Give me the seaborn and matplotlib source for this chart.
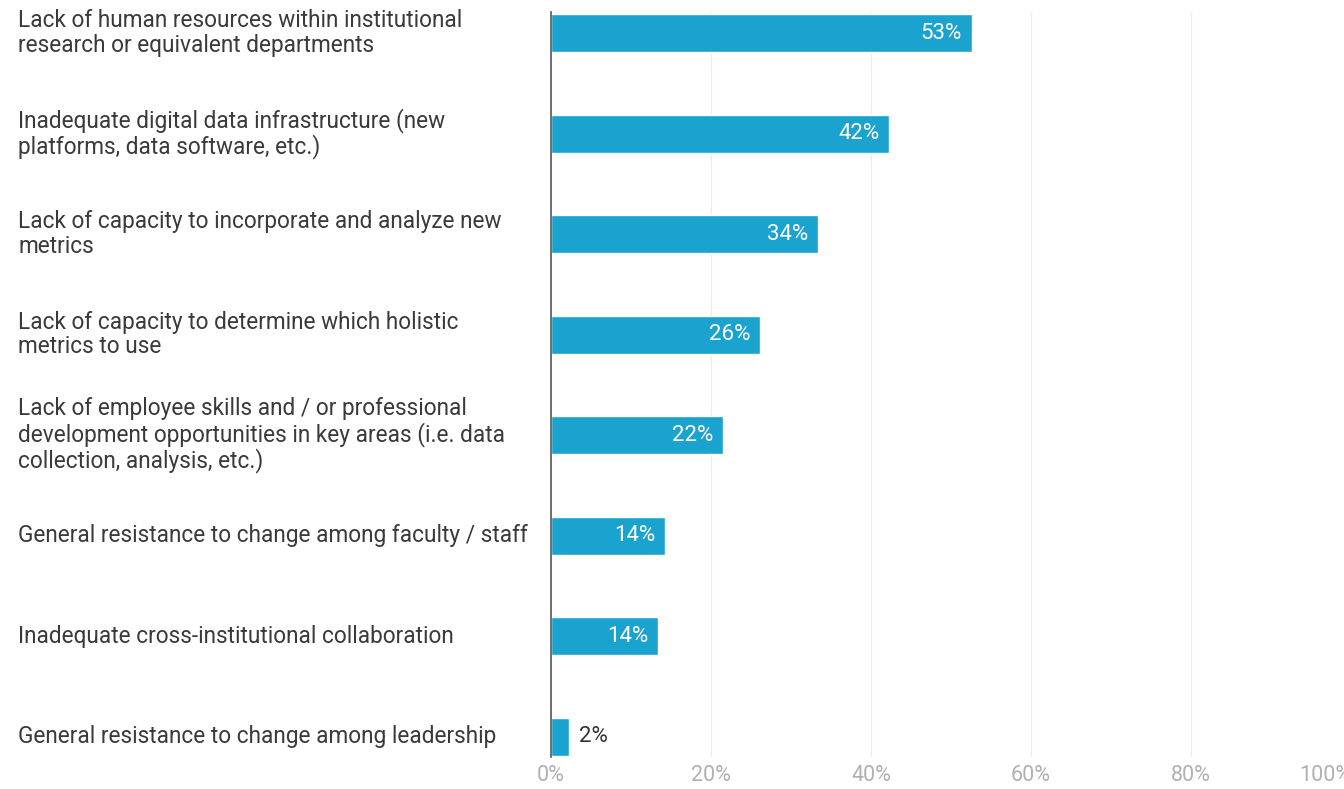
import matplotlib
matplotlib.use("Agg")
import matplotlib.pyplot as plt
import matplotlib.transforms as mtransforms
import seaborn as sns
import pandas as pd

categories = [
    "Lack of human resources within institutional\nresearch or equivalent departments",
    "Inadequate digital data infrastructure (new\nplatforms, data software, etc.)",
    "Lack of capacity to incorporate and analyze new\nmetrics",
    "Lack of capacity to determine which holistic\nmetrics to use",
    "Lack of employee skills and / or professional\ndevelopment opportunities in key areas (i.e. data\ncollection, analysis, etc.)",
    "General resistance to change among faculty / staff",
    "Inadequate cross-institutional collaboration",
    "General resistance to change among leadership",
]
values = [52.6, 42.3, 33.4, 26.1, 21.5, 14.3, 13.4, 2.3]
value_labels = ["53%", "42%", "34%", "26%", "22%", "14%", "14%", "2%"]
x_ticks = [0, 20, 40, 60, 80, 100]
x_tick_labels = ["0%", "20%", "40%", "60%", "80%", "100%"]

sns.set_theme(style="white")
plt.rcParams["font.family"] = ["Roboto", "DejaVu Sans"]

df = pd.DataFrame({"category": categories, "value": values})

fig = plt.figure(figsize=(13.44, 7.89), dpi=100)
ax = fig.add_axes([551 / 1344, 32 / 789, 800 / 1344, 745 / 789])

sns.barplot(data=df, x="value", y="category", color="#1ba3cf", saturation=1,
            width=0.38, ax=ax, orient="h")

ax.set_xlim(0, 100)
ax.set_ylim(7.2, -0.21)
ax.set_xticks(x_ticks)
ax.set_xticklabels(x_tick_labels, color="#b0b0b0", fontsize=15.5)
ax.get_xticklabels()[-1].set_horizontalalignment("right")
ax.tick_params(axis="x", length=0, pad=6)
ax.set_yticks([])
ax.set_xlabel("")
ax.set_ylabel("")
ax.grid(axis="x", color="#ececec", linewidth=1)
ax.set_axisbelow(True)
for s in ["top", "right", "bottom"]:
    ax.spines[s].set_visible(False)
ax.spines["left"].set_color("#555555")
ax.spines["left"].set_linewidth(1.2)
ax.spines["left"].set_zorder(5)

# category labels, left aligned
trans = mtransforms.blended_transform_factory(fig.transFigure, ax.transData)
for i, cat in enumerate(categories):
    ax.text(18 / 1344, i, cat, transform=trans, ha="left", va="center",
            fontsize=16.3, color="#3a3a3a", linespacing=1.08)

# value labels
for i, (v, lab) in enumerate(zip(values, value_labels)):
    if v > 8:
        ax.annotate(lab, (v, i), xytext=(-7, 0), textcoords="offset points",
                    ha="right", va="center", color="white", fontsize=16)
    else:
        ax.annotate(lab, (v, i), xytext=(7, 0), textcoords="offset points",
                    ha="left", va="center", color="#333333", fontsize=16)

fig.savefig("out.png", dpi=100)
